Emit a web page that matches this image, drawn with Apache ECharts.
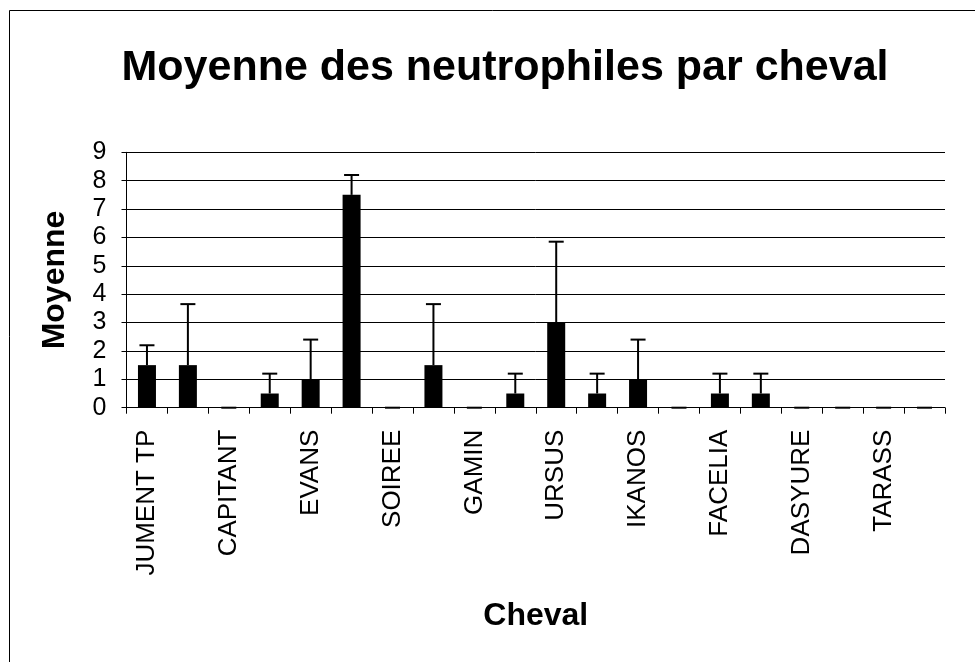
<!DOCTYPE html>
<html>
<head>
<meta charset="utf-8">
<script src="https://cdn.jsdelivr.net/npm/echarts@6/dist/echarts.min.js"></script>
<style>
  html, body { margin: 0; padding: 0; background: #fff; }
  #chart { width: 975px; height: 662px; }
</style>
</head>
<body>
<div id="chart"></div>
<script>
// chevaux (une étiquette sur deux est affichée dans l'original)
const categories = [
  'JUMENT TP', '', 'CAPITANT', '', 'EVANS', '', 'SOIREE', '', 'GAMIN', '',
  'URSUS', '', 'IKANOS', '', 'FACELIA', '', 'DASYURE', '', 'TARASS', ''
]
// moyennes
const moyennes = [1.5, 1.5, 0, 0.5, 1, 7.5, 0, 1.5, 0, 0.5, 3, 0.5, 1, 0, 0.5, 0.5, 0, 0, 0, 0]
// écart-type (barre d'erreur au-dessus)
const ecarts = [0.7, 2.15, 0, 0.7, 1.4, 0.7, 0, 2.15, 0, 0.7, 2.85, 0.7, 1.4, 0, 0.7, 0.7, 0, 0, 0, 0]
const yTicks = [0, 1, 2, 3, 4, 5, 6, 7, 8, 9]

const font = 'Liberation Sans, Arial, sans-serif'

// données des barres d'erreur : [index, bas, haut]
const errData = moyennes.map((m, i) => [i, m, m + ecarts[i]])

const chart = echarts.init(document.getElementById('chart'))
chart.setOption({
  animation: false,
  backgroundColor: '#fff',
  graphic: [
    {
      type: 'rect',
      shape: { x: 9.5, y: 10.5, width: 1100, height: 1100 },
      style: { fill: 'none', stroke: '#000', lineWidth: 1 },
      z: -1
    }
  ],
  title: {
    text: 'Moyenne des neutrophiles par cheval',
    left: 500,
    top: 42,
    textAlign: 'center',
    textStyle: { fontFamily: font, fontSize: 43, fontWeight: 'bold', color: '#000' }
  },
  grid: { left: 126.5, right: 30, top: 152.3, bottom: 254.3, containLabel: false },
  xAxis: {
    type: 'category',
    data: categories,
    name: 'Cheval',
    nameLocation: 'middle',
    nameGap: 192,
    nameTextStyle: { fontFamily: font, fontSize: 32, fontWeight: 'bold', color: '#000' },
    axisLine: { lineStyle: { color: '#000', width: 1 } },
    axisTick: { show: true, interval: 0, length: 6, lineStyle: { color: '#000' } },
    axisLabel: {
      interval: 0,
      rotate: 90,
      margin: 22,
      fontFamily: font,
      fontSize: 26,
      color: '#000'
    },
    splitLine: { show: false }
  },
  yAxis: {
    type: 'value',
    min: yTicks[0],
    max: yTicks[yTicks.length - 1],
    interval: 1,
    name: 'Moyenne',
    nameLocation: 'middle',
    nameGap: 55,
    nameTextStyle: { fontFamily: font, fontSize: 32, fontWeight: 'bold', color: '#000' },
    axisLine: { show: true, lineStyle: { color: '#000', width: 1 } },
    axisTick: { show: true, length: 5, lineStyle: { color: '#000' } },
    axisLabel: { margin: 20, fontFamily: font, fontSize: 25, color: '#000' },
    splitLine: { show: true, lineStyle: { color: '#000', width: 1 } }
  },
  series: [
    {
      name: 'Moyenne',
      type: 'bar',
      data: moyennes,
      barWidth: 18,
      itemStyle: { color: '#000' },
      z: 2
    },
    {
      name: 'Ecart',
      type: 'custom',
      data: errData,
      z: 3,
      renderItem: function (params, api) {
        const x = api.value(0)
        const bas = api.coord([x, api.value(1)])
        const haut = api.coord([x, api.value(2)])
        const demi = 7.5
        return {
          type: 'group',
          children: [
            {
              type: 'line',
              shape: { x1: bas[0], y1: bas[1], x2: haut[0], y2: haut[1] },
              style: { stroke: '#000', lineWidth: 2 }
            },
            {
              type: 'line',
              shape: { x1: haut[0] - demi, y1: haut[1], x2: haut[0] + demi, y2: haut[1] },
              style: { stroke: '#000', lineWidth: 2 }
            }
          ]
        }
      }
    }
  ]
})
</script>
</body>
</html>
